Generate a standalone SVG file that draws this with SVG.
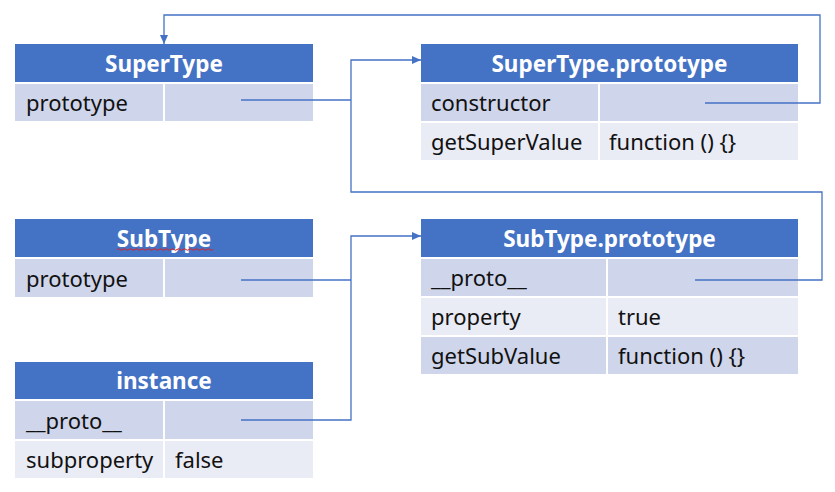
<svg xmlns="http://www.w3.org/2000/svg" width="835" height="492" viewBox="0 0 835 492">
<defs>
<marker id="arr" markerWidth="10" markerHeight="10" refX="9" refY="5" orient="auto" markerUnits="userSpaceOnUse">
<path d="M0,1 L9,5 L0,9 Z" fill="#4472C4"/>
</marker>
<style>
.h{fill:#4472C4}
.d{fill:#CFD5EA}
.l{fill:#E9EBF5}
.ht{font-family:"Noto Sans","Open Sans",sans-serif;font-weight:bold;font-size:22.5px;fill:#fff;text-anchor:middle}
.t{font-family:"Noto Sans","Open Sans",sans-serif;font-size:22px;fill:#111}
.c{fill:none;stroke:#4472C4;stroke-width:1.3}
</style>
</defs>
<rect width="835" height="492" fill="#fff"/>
<g id="supertype">
<rect class="h" x="15" y="44" width="298" height="38"/>
<text class="ht" x="164" y="72">SuperType</text>
<rect class="d" x="15" y="84" width="148" height="37"/>
<rect class="d" x="165" y="84" width="148" height="37"/>
<text class="t" x="26" y="111">prototype</text>
</g>
<g id="supertype-prototype">
<rect class="h" x="421" y="44" width="377" height="38"/>
<text class="ht" x="609.5" y="72">SuperType.prototype</text>
<rect class="d" x="421" y="84" width="177" height="37"/>
<rect class="d" x="600" y="84" width="198" height="37"/>
<text class="t" x="431" y="111">constructor</text>
<rect class="l" x="421" y="123" width="177" height="37"/>
<rect class="l" x="600" y="123" width="198" height="37"/>
<text class="t" x="431" y="150">getSuperValue</text>
<text class="t" x="609" y="150">function () {}</text>
</g>
<g id="subtype">
<rect class="h" x="15" y="219" width="298" height="38"/>
<text class="ht" x="164" y="247">SubType</text>
<path d="M117,249.5 q1.5,-1.5 3,0 t3,0 t3,0 t3,0 t3,0 t3,0 t3,0 t3,0 t3,0 t3,0 t3,0 t3,0 t3,0 t3,0 t3,0 t3,0 t3,0 t3,0 t3,0 t3,0 t3,0 t3,0 t3,0 t3,0 t3,0 t3,0 t3,0 t3,0 t3,0 t3,0 t3,0 t3,0" fill="none" stroke="#e02020" stroke-width="1"/>
<rect class="d" x="15" y="259" width="148" height="38"/>
<rect class="d" x="165" y="259" width="148" height="38"/>
<text class="t" x="26" y="287">prototype</text>
</g>
<g id="subtype-prototype">
<rect class="h" x="421" y="219" width="377" height="38"/>
<text class="ht" x="609.5" y="247">SubType.prototype</text>
<rect class="d" x="421" y="259" width="185" height="37"/>
<rect class="d" x="608" y="259" width="190" height="37"/>
<text class="t" x="431" y="286">__proto__</text>
<rect class="l" x="421" y="298" width="185" height="37"/>
<rect class="l" x="608" y="298" width="190" height="37"/>
<text class="t" x="431" y="325">property</text>
<text class="t" x="618" y="325">true</text>
<rect class="d" x="421" y="337" width="185" height="37"/>
<rect class="d" x="608" y="337" width="190" height="37"/>
<text class="t" x="431" y="364">getSubValue</text>
<text class="t" x="618" y="364">function () {}</text>
</g>
<g id="instance">
<rect class="h" x="15" y="362" width="298" height="37"/>
<text class="ht" x="164" y="389">instance</text>
<rect class="d" x="15" y="401" width="148" height="38"/>
<rect class="d" x="165" y="401" width="148" height="38"/>
<text class="t" x="26" y="429">__proto__</text>
<rect class="l" x="15" y="441" width="148" height="37"/>
<rect class="l" x="165" y="441" width="148" height="37"/>
<text class="t" x="26" y="468">subproperty</text>
<text class="t" x="175" y="468">false</text>
</g>
<g id="connectors">
<path class="c" d="M241,100 H351"/>
<path class="c" d="M695,280 H822 V192 H351 V60 H421" marker-end="url(#arr)"/>
<path class="c" d="M705,103 H820 V15 H164 V44" marker-end="url(#arr)"/>
<path class="c" d="M241,280 H351"/>
<path class="c" d="M241,420 H351 V236 H421" marker-end="url(#arr)"/>
</g>
</svg>
